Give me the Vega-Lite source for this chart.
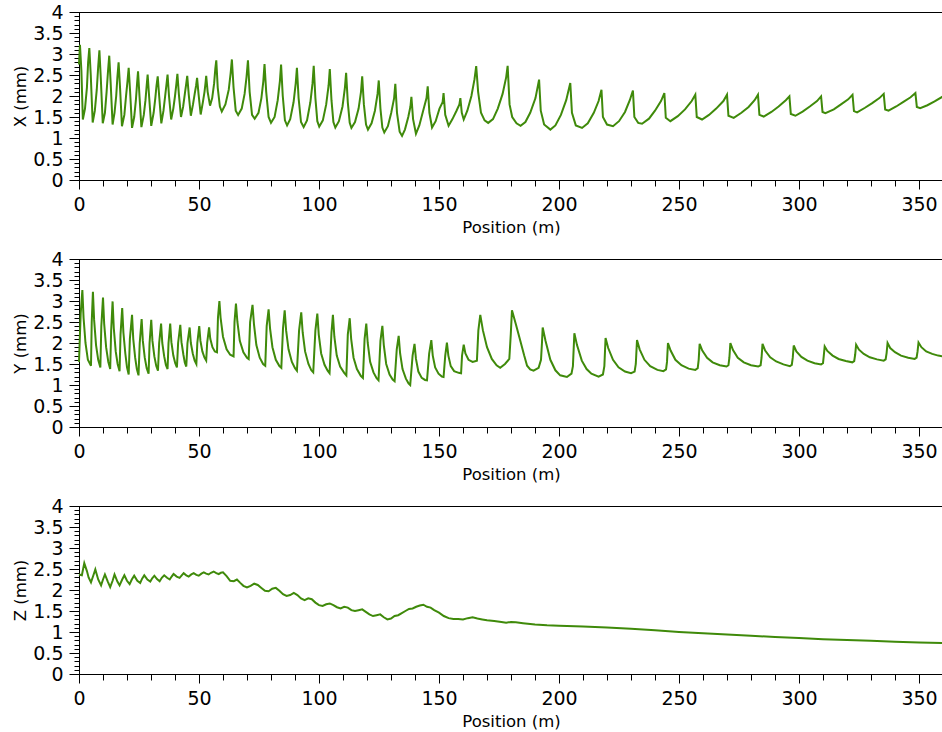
{
"$schema": "https://vega.github.io/schema/vega-lite/v6.json",
"padding": {"left": 12, "top": 3, "right": 0, "bottom": 0},
"spacing": 14,
"config": {
 "view": {"stroke": null},
 "font": "DejaVu Sans",
 "axis": {"labelFont": "DejaVu Sans", "titleFont": "DejaVu Sans", "labelFontSize": 19, "titleFontSize": 16.5, "titleFontWeight": "normal", "labelColor": "#000", "titleColor": "#000", "domainColor": "#000", "tickColor": "#000", "grid": false, "labelOverlap": false, "labelFlush": false}
},
"datasets": {
 "xd": [
{"p":0,"v":2.75},{"p":0.4,"v":3.22},{"p":1.0,"v":2.6},{"p":1.6,"v":1.44},{"p":2.5,"v":1.7},{"p":3.3,"v":2.2},{"p":3.8,"v":2.8},{"p":4.3,"v":3.14},{"p":4.9,"v":2.5},{"p":5.7,"v":1.37},{"p":6.6,"v":1.65},{"p":7.4,"v":2.15},{"p":8.0,"v":2.7},{"p":8.5,"v":3.09},{"p":9.1,"v":2.4},{"p":9.9,"v":1.35},{"p":10.8,"v":1.6},{"p":11.5,"v":2.1},{"p":12.1,"v":2.6},{"p":12.6,"v":2.96},{"p":13.2,"v":2.3},{"p":14.0,"v":1.32},{"p":14.8,"v":1.6},{"p":15.5,"v":2.0},{"p":16.0,"v":2.45},{"p":16.5,"v":2.8},{"p":17.1,"v":2.2},{"p":17.9,"v":1.28},{"p":18.9,"v":1.55},{"p":19.6,"v":2.0},{"p":20.2,"v":2.35},{"p":20.7,"v":2.67},{"p":21.3,"v":2.1},{"p":22.1,"v":1.24},{"p":23.0,"v":1.5},{"p":23.7,"v":1.9},{"p":24.2,"v":2.3},{"p":24.6,"v":2.59},{"p":25.2,"v":2.0},{"p":26.0,"v":1.26},{"p":27.0,"v":1.55},{"p":27.7,"v":1.9},{"p":28.2,"v":2.25},{"p":28.6,"v":2.51},{"p":29.2,"v":2.0},{"p":30.1,"v":1.29},{"p":31.1,"v":1.6},{"p":31.8,"v":1.95},{"p":32.3,"v":2.25},{"p":32.8,"v":2.47},{"p":33.4,"v":2.0},{"p":34.3,"v":1.35},{"p":35.2,"v":1.65},{"p":35.9,"v":2.0},{"p":36.5,"v":2.3},{"p":36.9,"v":2.51},{"p":37.5,"v":2.0},{"p":38.4,"v":1.44},{"p":39.3,"v":1.7},{"p":40.0,"v":2.0},{"p":40.6,"v":2.3},{"p":41.0,"v":2.53},{"p":41.6,"v":2.05},{"p":42.5,"v":1.5},{"p":43.4,"v":1.75},{"p":44.1,"v":2.05},{"p":44.7,"v":2.3},{"p":45.1,"v":2.48},{"p":45.7,"v":2.05},{"p":46.6,"v":1.53},{"p":47.5,"v":1.8},{"p":48.2,"v":2.05},{"p":48.8,"v":2.25},{"p":49.2,"v":2.43},{"p":49.8,"v":2.05},{"p":50.7,"v":1.56},{"p":51.6,"v":1.85},{"p":52.3,"v":2.1},{"p":52.7,"v":2.3},{"p":53.0,"v":2.48},{"p":53.6,"v":2.1},{"p":54.6,"v":1.77},{"p":55.5,"v":1.95},{"p":56.3,"v":2.3},{"p":56.8,"v":2.65},{"p":57.2,"v":2.85},{"p":57.8,"v":2.2},{"p":58.7,"v":1.75},{"p":59.5,"v":1.63},{"p":61.0,"v":1.8},{"p":62.4,"v":2.15},{"p":63.2,"v":2.55},{"p":63.7,"v":2.87},{"p":64.4,"v":2.2},{"p":65.3,"v":1.65},{"p":66.3,"v":1.55},{"p":67.8,"v":1.7},{"p":69.0,"v":2.05},{"p":69.8,"v":2.45},{"p":70.4,"v":2.85},{"p":71.1,"v":2.1},{"p":72.1,"v":1.55},{"p":73.2,"v":1.46},{"p":74.8,"v":1.6},{"p":76.0,"v":1.95},{"p":76.8,"v":2.35},{"p":77.3,"v":2.76},
{"p":78.0,"v":2.1},{"p":79.0,"v":1.5},{"p":80.0,"v":1.36},{"p":81.5,"v":1.5},{"p":82.8,"v":1.9},{"p":83.7,"v":2.35},{"p":84.2,"v":2.75},{"p":84.9,"v":2.0},{"p":85.8,"v":1.42},{"p":86.7,"v":1.3},{"p":88.0,"v":1.45},{"p":89.4,"v":1.85},{"p":90.3,"v":2.3},{"p":90.8,"v":2.67},{"p":91.5,"v":1.95},{"p":92.5,"v":1.38},{"p":93.6,"v":1.26},{"p":95.0,"v":1.42},{"p":96.4,"v":1.85},{"p":97.3,"v":2.3},{"p":97.8,"v":2.72},{"p":98.5,"v":1.95},{"p":99.3,"v":1.4},{"p":100.1,"v":1.27},{"p":101.6,"v":1.42},{"p":103.0,"v":1.8},{"p":104.0,"v":2.25},{"p":104.5,"v":2.64},{"p":105.2,"v":1.9},{"p":106.0,"v":1.38},{"p":106.8,"v":1.25},{"p":108.3,"v":1.4},{"p":109.8,"v":1.75},{"p":110.8,"v":2.2},{"p":111.3,"v":2.55},{"p":112.0,"v":1.85},{"p":112.8,"v":1.36},{"p":113.5,"v":1.24},{"p":115.0,"v":1.38},{"p":116.5,"v":1.7},{"p":117.5,"v":2.1},{"p":118.0,"v":2.47},{"p":118.7,"v":1.8},{"p":119.6,"v":1.32},{"p":120.4,"v":1.2},{"p":121.9,"v":1.35},{"p":123.3,"v":1.65},{"p":124.4,"v":2.05},{"p":124.9,"v":2.37},{"p":125.6,"v":1.7},{"p":126.4,"v":1.25},{"p":127.2,"v":1.13},{"p":128.7,"v":1.28},{"p":130.1,"v":1.6},{"p":131.3,"v":1.95},{"p":131.8,"v":2.29},{"p":132.5,"v":1.6},{"p":133.6,"v":1.15},{"p":134.6,"v":1.05},{"p":135.8,"v":1.2},{"p":137.2,"v":1.5},{"p":138.1,"v":1.75},{"p":138.5,"v":1.98},{"p":139.2,"v":1.45},{"p":140.4,"v":1.1},{"p":141.8,"v":1.3},{"p":143.4,"v":1.65},{"p":144.8,"v":1.95},{"p":145.3,"v":2.23},{"p":146.0,"v":1.6},{"p":147.1,"v":1.25},{"p":148.6,"v":1.4},{"p":150.2,"v":1.7},{"p":151.5,"v":1.85},{"p":151.9,"v":2.07},{"p":152.6,"v":1.55},{"p":154.0,"v":1.29},{"p":155.6,"v":1.45},{"p":157.3,"v":1.65},{"p":158.5,"v":1.8},{"p":158.9,"v":1.95},{"p":159.5,"v":1.6},{"p":160.3,"v":1.44},{"p":161.8,"v":1.65},{"p":163.5,"v":2.0},{"p":164.8,"v":2.4},{"p":165.5,"v":2.71},{"p":166.3,"v":2.1},{"p":167.5,"v":1.6},{"p":169.0,"v":1.42},{"p":170.5,"v":1.36},{"p":172.5,"v":1.45},{"p":174.5,"v":1.7},{"p":176.5,"v":2.05},{"p":178.0,"v":2.45},{"p":178.6,"v":2.72},{"p":179.4,"v":1.8},{"p":180.5,"v":1.5},{"p":182.3,"v":1.35},{"p":184.0,"v":1.29},{"p":186.0,"v":1.38},{"p":188.0,"v":1.6},{"p":190.2,"v":1.95},{"p":191.7,"v":2.39},{"p":192.4,"v":1.65},{"p":193.8,"v":1.32},{"p":196.4,"v":1.2},{"p":198.5,"v":1.3},{"p":200.8,"v":1.55},{"p":203.0,"v":1.9},{"p":204.7,"v":2.31},{"p":205.4,"v":1.6},{"p":207.0,"v":1.3},{"p":209.6,"v":1.24},{"p":212.0,"v":1.35},{"p":214.5,"v":1.6},{"p":216.5,"v":1.88},{"p":217.7,"v":2.15},{"p":218.3,"v":1.5},{"p":220.0,"v":1.32},{"p":222.5,"v":1.28},{"p":225.0,"v":1.4},{"p":227.5,"v":1.62},{"p":229.5,"v":1.9},{"p":230.8,"v":2.13},{"p":231.4,"v":1.5},{"p":233.0,"v":1.36},{"p":234.6,"v":1.34},{"p":237.5,"v":1.46},{"p":240.0,"v":1.65},{"p":242.5,"v":1.88},{"p":243.9,"v":2.07},{"p":244.5,"v":1.48},{"p":246.4,"v":1.4},{"p":249.5,"v":1.52},{"p":252.5,"v":1.68},{"p":255.3,"v":1.88},{"p":256.8,"v":2.03},{"p":257.4,"v":1.5},{"p":259.6,"v":1.44},{"p":262.5,"v":1.55},{"p":265.5,"v":1.7},{"p":268.5,"v":1.88},{"p":270.0,"v":2.03},{"p":270.6,"v":1.53},{"p":272.8,"v":1.48},{"p":276.0,"v":1.6},{"p":279.0,"v":1.74},{"p":281.5,"v":1.9},{"p":282.9,"v":2.03},{"p":283.5,"v":1.55},{"p":285.3,"v":1.51},{"p":288.5,"v":1.62},{"p":291.5,"v":1.75},{"p":294.5,"v":1.9},{"p":296.0,"v":1.99},{"p":296.6,"v":1.57},{"p":298.5,"v":1.53},{"p":301.5,"v":1.63},{"p":304.5,"v":1.75},{"p":307.5,"v":1.88},{"p":309.2,"v":1.99},{"p":309.8,"v":1.62},{"p":311.0,"v":1.59},{"p":314.5,"v":1.68},{"p":317.5,"v":1.8},{"p":320.5,"v":1.92},{"p":322.3,"v":2.03},{"p":322.9,"v":1.64},{"p":324.2,"v":1.61},{"p":327.5,"v":1.72},{"p":330.5,"v":1.83},{"p":333.5,"v":1.95},{"p":335.3,"v":2.05},{"p":335.9,"v":1.68},{"p":337.3,"v":1.65},{"p":340.5,"v":1.75},{"p":343.5,"v":1.86},{"p":346.5,"v":1.97},{"p":348.5,"v":2.07},{"p":349.1,"v":1.74},{"p":350.5,"v":1.71},{"p":353.5,"v":1.78},{"p":356.5,"v":1.87},{"p":360,"v":1.99}
 ],
 "yd": [
{"p":0,"v":1.55},{"p":0.7,"v":2.7},{"p":1.4,"v":3.26},{"p":1.9,"v":2.6},{"p":2.7,"v":2.0},{"p":3.7,"v":1.6},{"p":5.0,"v":1.46},{"p":5.3,"v":2.5},{"p":5.8,"v":3.22},{"p":6.3,"v":2.55},{"p":7.1,"v":1.95},{"p":8.0,"v":1.6},{"p":8.9,"v":1.42},{"p":9.3,"v":2.4},{"p":10.0,"v":3.08},{"p":10.5,"v":2.45},{"p":11.3,"v":1.9},{"p":12.2,"v":1.55},{"p":13.0,"v":1.38},{"p":13.4,"v":2.3},{"p":14.0,"v":2.99},{"p":14.5,"v":2.35},{"p":15.3,"v":1.8},{"p":16.1,"v":1.5},{"p":16.9,"v":1.33},{"p":17.3,"v":2.2},{"p":18.0,"v":2.83},{"p":18.5,"v":2.25},{"p":19.3,"v":1.75},{"p":20.0,"v":1.42},{"p":20.7,"v":1.25},{"p":21.2,"v":2.1},{"p":22.1,"v":2.67},{"p":22.6,"v":2.1},{"p":23.4,"v":1.65},{"p":24.1,"v":1.38},{"p":24.8,"v":1.23},{"p":25.3,"v":2.0},{"p":26.1,"v":2.57},{"p":26.6,"v":2.05},{"p":27.4,"v":1.65},{"p":28.2,"v":1.4},{"p":29.0,"v":1.27},{"p":29.4,"v":2.0},{"p":30.1,"v":2.55},{"p":30.6,"v":2.05},{"p":31.4,"v":1.68},{"p":32.2,"v":1.45},{"p":32.9,"v":1.34},{"p":33.4,"v":2.0},{"p":34.2,"v":2.46},{"p":34.7,"v":2.0},{"p":35.5,"v":1.68},{"p":36.2,"v":1.48},{"p":36.9,"v":1.38},{"p":37.3,"v":2.0},{"p":38.0,"v":2.46},{"p":38.5,"v":2.02},{"p":39.3,"v":1.7},{"p":40.1,"v":1.52},{"p":40.8,"v":1.42},{"p":41.3,"v":2.0},{"p":42.2,"v":2.43},{"p":42.7,"v":2.02},{"p":43.5,"v":1.72},{"p":44.1,"v":1.53},{"p":44.7,"v":1.44},{"p":45.2,"v":2.0},{"p":46.1,"v":2.37},{"p":46.6,"v":2.0},{"p":47.4,"v":1.75},{"p":48.2,"v":1.58},{"p":48.9,"v":1.5},{"p":49.3,"v":2.0},{"p":50.1,"v":2.4},{"p":50.6,"v":2.05},{"p":51.4,"v":1.8},{"p":52.3,"v":1.65},{"p":53.0,"v":1.58},{"p":53.4,"v":2.0},{"p":54.2,"v":2.37},{"p":54.7,"v":2.1},{"p":55.6,"v":1.9},{"p":56.6,"v":1.8},{"p":57.5,"v":1.78},{"p":57.9,"v":2.6},{"p":58.5,"v":3.0},{"p":59.0,"v":2.6},{"p":60.0,"v":2.15},{"p":61.5,"v":1.85},{"p":63.0,"v":1.72},{"p":64.4,"v":1.68},{"p":64.8,"v":2.5},{"p":65.4,"v":2.94},{"p":66.0,"v":2.5},{"p":67.0,"v":2.05},{"p":68.5,"v":1.78},{"p":70.0,"v":1.65},{"p":70.7,"v":1.62},{"p":71.3,"v":2.5},{"p":72.3,"v":2.91},{"p":72.9,"v":2.45},{"p":73.9,"v":1.95},{"p":75.3,"v":1.65},{"p":76.7,"v":1.5},{"p":77.6,"v":1.46},{"p":78.2,"v":2.4},{"p":79.0,"v":2.8},{"p":79.6,"v":2.35},{"p":80.6,"v":1.9},{"p":82.0,"v":1.6},{"p":83.5,"v":1.45},{"p":84.3,"v":1.41},{"p":85.0,"v":2.35},{"p":85.7,"v":2.78},{"p":86.3,"v":2.3},{"p":87.3,"v":1.85},{"p":88.7,"v":1.55},{"p":90.0,"v":1.4},{"p":90.8,"v":1.34},{"p":91.7,"v":2.3},{"p":92.6,"v":2.73},{"p":93.2,"v":2.25},{"p":94.2,"v":1.8},{"p":95.6,"v":1.5},{"p":96.8,"v":1.35},{"p":97.6,"v":1.3},{"p":98.5,"v":2.3},{"p":99.3,"v":2.7},{"p":99.9,"v":2.2},{"p":100.9,"v":1.75},{"p":102.3,"v":1.48},{"p":103.6,"v":1.34},{"p":104.4,"v":1.28},{"p":105.2,"v":2.25},{"p":105.8,"v":2.67},{"p":106.4,"v":2.15},{"p":107.4,"v":1.7},{"p":108.8,"v":1.44},{"p":110.5,"v":1.29},{"p":111.4,"v":1.23},{"p":112.0,"v":2.2},{"p":112.8,"v":2.59},{"p":113.4,"v":2.1},{"p":114.4,"v":1.65},{"p":115.8,"v":1.38},{"p":117.4,"v":1.22},{"p":118.3,"v":1.17},{"p":119.0,"v":2.1},{"p":119.7,"v":2.46},{"p":120.3,"v":2.0},{"p":121.3,"v":1.55},{"p":122.7,"v":1.3},{"p":124.0,"v":1.16},{"p":124.8,"v":1.11},{"p":125.6,"v":2.05},{"p":126.4,"v":2.41},{"p":127.0,"v":1.95},{"p":128.0,"v":1.5},{"p":129.4,"v":1.25},{"p":130.7,"v":1.13},{"p":131.5,"v":1.09},{"p":132.4,"v":1.85},{"p":133.2,"v":2.17},{"p":133.8,"v":1.75},{"p":134.8,"v":1.38},{"p":136.2,"v":1.15},{"p":137.3,"v":1.04},{"p":138.0,"v":1.0},{"p":139.0,"v":1.7},{"p":139.8,"v":1.98},{"p":140.4,"v":1.62},{"p":141.4,"v":1.32},{"p":142.8,"v":1.17},{"p":144.2,"v":1.12},{"p":145.0,"v":1.11},{"p":145.9,"v":1.75},{"p":146.8,"v":2.07},{"p":147.4,"v":1.7},{"p":148.4,"v":1.42},{"p":149.8,"v":1.27},{"p":151.2,"v":1.2},{"p":151.9,"v":1.19},{"p":152.6,"v":1.7},{"p":153.3,"v":2.01},{"p":153.9,"v":1.7},{"p":154.9,"v":1.45},{"p":156.3,"v":1.33},{"p":158.2,"v":1.29},{"p":159.2,"v":1.28},{"p":159.6,"v":1.7},{"p":160.3,"v":1.96},{"p":161.0,"v":1.75},{"p":162.3,"v":1.6},{"p":164.0,"v":1.55},{"p":165.8,"v":1.58},{"p":166.4,"v":2.3},{"p":167.2,"v":2.67},{"p":168.3,"v":2.3},{"p":170.0,"v":1.9},{"p":172.0,"v":1.62},{"p":174.0,"v":1.47},{"p":175.5,"v":1.41},{"p":177.5,"v":1.5},{"p":179.3,"v":1.62},{"p":179.9,"v":2.2},{"p":180.4,"v":2.78},{"p":182.0,"v":2.45},{"p":183.9,"v":2.05},{"p":185.5,"v":1.7},{"p":186.7,"v":1.46},{"p":188.0,"v":1.37},{"p":189.4,"v":1.34},{"p":191.5,"v":1.41},{"p":192.5,"v":1.6},{"p":192.9,"v":2.0},{"p":193.2,"v":2.37},{"p":194.4,"v":2.05},{"p":196.4,"v":1.6},{"p":198.5,"v":1.35},{"p":200.5,"v":1.23},{"p":203.3,"v":1.19},{"p":205.2,"v":1.27},{"p":205.8,"v":1.45},{"p":206.4,"v":2.23},{"p":207.5,"v":1.95},{"p":209.5,"v":1.58},{"p":211.5,"v":1.38},{"p":213.5,"v":1.27},{"p":216.5,"v":1.2},{"p":218.3,"v":1.25},{"p":218.9,"v":1.45},{"p":219.4,"v":2.12},{"p":220.5,"v":1.88},{"p":222.5,"v":1.6},{"p":224.8,"v":1.42},{"p":227.5,"v":1.32},{"p":230.0,"v":1.28},{"p":231.5,"v":1.32},{"p":232.0,"v":1.5},{"p":232.5,"v":2.07},{"p":233.6,"v":1.85},{"p":235.6,"v":1.6},{"p":238.0,"v":1.45},{"p":241.0,"v":1.36},{"p":243.5,"v":1.33},{"p":244.6,"v":1.37},{"p":245.0,"v":1.55},{"p":245.4,"v":2.0},{"p":246.5,"v":1.82},{"p":248.5,"v":1.6},{"p":251.0,"v":1.47},{"p":254.0,"v":1.39},{"p":256.8,"v":1.36},{"p":257.8,"v":1.4},{"p":258.2,"v":1.6},{"p":258.6,"v":1.98},{"p":259.7,"v":1.82},{"p":261.7,"v":1.65},{"p":264.0,"v":1.54},{"p":267.0,"v":1.47},{"p":269.8,"v":1.44},{"p":270.6,"v":1.47},{"p":271.0,"v":1.65},{"p":271.4,"v":2.0},{"p":272.5,"v":1.83},{"p":274.5,"v":1.65},{"p":277.0,"v":1.54},{"p":280.0,"v":1.47},{"p":283.0,"v":1.44},{"p":284.0,"v":1.47},{"p":284.4,"v":1.65},{"p":284.8,"v":1.98},{"p":285.9,"v":1.82},{"p":288.0,"v":1.66},{"p":290.5,"v":1.56},{"p":293.5,"v":1.49},{"p":296.2,"v":1.45},{"p":297.0,"v":1.48},{"p":297.4,"v":1.65},{"p":297.8,"v":1.94},{"p":298.9,"v":1.8},{"p":301.0,"v":1.67},{"p":303.5,"v":1.58},{"p":306.5,"v":1.52},{"p":309.2,"v":1.49},{"p":310.0,"v":1.52},{"p":310.3,"v":1.68},{"p":310.7,"v":1.92},{"p":311.8,"v":1.81},{"p":314.0,"v":1.7},{"p":316.5,"v":1.62},{"p":319.5,"v":1.57},{"p":322.2,"v":1.54},{"p":323.0,"v":1.57},{"p":323.4,"v":1.72},{"p":323.8,"v":1.96},{"p":325.0,"v":1.84},{"p":327.0,"v":1.74},{"p":329.5,"v":1.66},{"p":332.5,"v":1.61},{"p":335.3,"v":1.58},{"p":336.1,"v":1.61},{"p":336.5,"v":1.76},{"p":336.9,"v":2.0},{"p":338.0,"v":1.88},{"p":340.0,"v":1.78},{"p":342.5,"v":1.7},{"p":345.5,"v":1.65},{"p":348.2,"v":1.62},{"p":349.0,"v":1.65},{"p":349.4,"v":1.8},{"p":349.8,"v":2.01},{"p":351.0,"v":1.9},{"p":353.0,"v":1.8},{"p":355.5,"v":1.74},{"p":358.0,"v":1.7},{"p":360,"v":1.68}
 ],
 "zd": [
{"p":0,"v":2.37},{"p":1.2,"v":2.35},{"p":2.2,"v":2.64},{"p":3.3,"v":2.45},{"p":4.0,"v":2.3},{"p":5.0,"v":2.18},{"p":6.0,"v":2.35},{"p":6.8,"v":2.49},{"p":8.0,"v":2.25},{"p":9.2,"v":2.11},{"p":10.0,"v":2.25},{"p":10.8,"v":2.37},{"p":12.0,"v":2.2},{"p":13.0,"v":2.07},{"p":14.0,"v":2.22},{"p":14.8,"v":2.37},{"p":16.0,"v":2.2},{"p":16.9,"v":2.11},{"p":18.0,"v":2.25},{"p":18.9,"v":2.35},{"p":20.0,"v":2.22},{"p":21.1,"v":2.14},{"p":22.0,"v":2.25},{"p":23.0,"v":2.34},{"p":24.3,"v":2.22},{"p":25.5,"v":2.17},{"p":26.3,"v":2.27},{"p":27.2,"v":2.35},{"p":28.5,"v":2.25},{"p":29.7,"v":2.2},{"p":30.5,"v":2.28},{"p":31.4,"v":2.34},{"p":32.5,"v":2.26},{"p":33.6,"v":2.21},{"p":34.5,"v":2.29},{"p":35.5,"v":2.35},{"p":36.7,"v":2.29},{"p":37.8,"v":2.25},{"p":38.6,"v":2.32},{"p":39.4,"v":2.38},{"p":40.7,"v":2.32},{"p":41.9,"v":2.29},{"p":42.8,"v":2.35},{"p":43.6,"v":2.4},{"p":44.7,"v":2.35},{"p":45.7,"v":2.32},{"p":46.8,"v":2.37},{"p":47.8,"v":2.4},{"p":48.9,"v":2.36},{"p":49.9,"v":2.34},{"p":51.0,"v":2.39},{"p":52.0,"v":2.42},{"p":53.0,"v":2.39},{"p":54.0,"v":2.37},{"p":55.0,"v":2.41},{"p":56.1,"v":2.44},{"p":57.2,"v":2.4},{"p":58.2,"v":2.38},{"p":59.1,"v":2.41},{"p":60.0,"v":2.42},{"p":61.5,"v":2.33},{"p":63.0,"v":2.22},{"p":64.5,"v":2.21},{"p":65.8,"v":2.25},{"p":67.2,"v":2.17},{"p":68.5,"v":2.1},{"p":70.0,"v":2.06},{"p":71.5,"v":2.1},{"p":73.0,"v":2.15},{"p":74.5,"v":2.12},{"p":76.0,"v":2.05},{"p":77.5,"v":1.98},{"p":79.0,"v":1.97},{"p":80.5,"v":2.03},{"p":82.0,"v":2.05},{"p":83.5,"v":1.98},{"p":85.0,"v":1.9},{"p":86.5,"v":1.86},{"p":88.0,"v":1.88},{"p":89.5,"v":1.93},{"p":91.0,"v":1.88},{"p":92.5,"v":1.8},{"p":94.0,"v":1.76},{"p":95.5,"v":1.8},{"p":97.0,"v":1.78},{"p":98.5,"v":1.7},{"p":100.0,"v":1.64},{"p":101.5,"v":1.62},{"p":103.0,"v":1.66},{"p":104.5,"v":1.68},{"p":106.0,"v":1.64},{"p":107.5,"v":1.59},{"p":109.0,"v":1.56},{"p":110.5,"v":1.6},{"p":112.0,"v":1.58},{"p":113.5,"v":1.52},{"p":115.0,"v":1.5},{"p":116.5,"v":1.52},{"p":118.0,"v":1.54},{"p":119.5,"v":1.48},{"p":121.0,"v":1.42},{"p":122.5,"v":1.38},{"p":124.0,"v":1.4},{"p":125.5,"v":1.42},{"p":127.0,"v":1.35},{"p":128.5,"v":1.3},{"p":130.0,"v":1.32},{"p":131.5,"v":1.38},{"p":133.0,"v":1.4},{"p":134.5,"v":1.45},{"p":136.0,"v":1.5},{"p":137.5,"v":1.55},{"p":139.0,"v":1.56},{"p":140.5,"v":1.6},{"p":142.0,"v":1.63},{"p":143.5,"v":1.65},{"p":145.0,"v":1.6},{"p":146.5,"v":1.58},{"p":148.0,"v":1.52},{"p":150.0,"v":1.46},{"p":152.0,"v":1.38},{"p":154.0,"v":1.33},{"p":156.0,"v":1.31},{"p":158.0,"v":1.31},{"p":160.0,"v":1.3},{"p":162.0,"v":1.33},{"p":164.0,"v":1.35},{"p":166.0,"v":1.32},{"p":168.0,"v":1.3},{"p":170.0,"v":1.28},{"p":173.0,"v":1.26},{"p":176.0,"v":1.24},{"p":178.0,"v":1.22},{"p":180.0,"v":1.24},{"p":182.0,"v":1.23},{"p":185.0,"v":1.21},{"p":190.0,"v":1.18},{"p":195.0,"v":1.16},{"p":200.0,"v":1.15},{"p":210.0,"v":1.13},{"p":220.0,"v":1.11},{"p":230.0,"v":1.08},{"p":240.0,"v":1.04},{"p":250.0,"v":1.0},{"p":260.0,"v":0.97},{"p":270.0,"v":0.94},{"p":280.0,"v":0.91},{"p":290.0,"v":0.88},{"p":300.0,"v":0.86},{"p":310.0,"v":0.83},{"p":320.0,"v":0.81},{"p":330.0,"v":0.79},{"p":340.0,"v":0.77},{"p":350.0,"v":0.75},{"p":360.0,"v":0.74}
 ]
},
"vconcat": [
 {"width": 864, "height": 168, "resolve": {"axis": {"x": "independent", "y": "independent"}}, "layer": [
  {"data": {"name": "xd"}, "mark": {"type": "line", "color": "#3f8a0a", "strokeWidth": 2},
   "encoding": {
    "x": {"field": "p", "type": "quantitative", "scale": {"domain": [0, 360], "nice": false, "zero": false},
     "axis": {"orient": "bottom", "title": "Position (m)", "values": [0,50,100,150,200,250,300,350], "format": "d", "tickSize": 9, "labelPadding": 6, "titlePadding": 5}},
    "y": {"field": "v", "type": "quantitative", "scale": {"domain": [0, 4], "nice": false},
     "axis": {"orient": "left", "title": "X (mm)", "values": [0,0.5,1,1.5,2,2.5,3,3.5,4], "format": "~g", "tickSize": 10, "labelPadding": 6, "titlePadding": 4}}
   }},
  {"data": {"values": [{}]}, "mark": {"type": "rule", "color": "#000", "strokeWidth": 1, "yOffset": 0.5},
   "encoding": {
    "x": {"datum": 0, "type": "quantitative", "axis": {"orient": "bottom", "title": null, "labels": false, "domain": false, "tickSize": 6, "values": [0,10,20,30,40,50,60,70,80,90,100,110,120,130,140,150,160,170,180,190,200,210,220,230,240,250,260,270,280,290,300,310,320,330,340,350,360]}},
    "x2": {"datum": 360},
    "y": {"datum": 4, "type": "quantitative", "axis": {"orient": "left", "title": null, "labels": false, "domain": false, "tickSize": 5, "values": [0,0.1,0.2,0.3,0.4,0.5,0.6,0.7,0.8,0.9,1,1.1,1.2,1.3,1.4,1.5,1.6,1.7,1.8,1.9,2,2.1,2.2,2.3,2.4,2.5,2.6,2.7,2.8,2.9,3,3.1,3.2,3.3,3.4,3.5,3.6,3.7,3.8,3.9,4]}}
   }}
 ]},
 {"width": 864, "height": 168, "resolve": {"axis": {"x": "independent", "y": "independent"}}, "layer": [
  {"data": {"name": "yd"}, "mark": {"type": "line", "color": "#3f8a0a", "strokeWidth": 2},
   "encoding": {
    "x": {"field": "p", "type": "quantitative", "scale": {"domain": [0, 360], "nice": false, "zero": false},
     "axis": {"orient": "bottom", "title": "Position (m)", "values": [0,50,100,150,200,250,300,350], "format": "d", "tickSize": 9, "labelPadding": 6, "titlePadding": 5}},
    "y": {"field": "v", "type": "quantitative", "scale": {"domain": [0, 4], "nice": false},
     "axis": {"orient": "left", "title": "Y (mm)", "values": [0,0.5,1,1.5,2,2.5,3,3.5,4], "format": "~g", "tickSize": 10, "labelPadding": 6, "titlePadding": 4}}
   }},
  {"data": {"values": [{}]}, "mark": {"type": "rule", "color": "#000", "strokeWidth": 1, "yOffset": 0.5},
   "encoding": {
    "x": {"datum": 0, "type": "quantitative", "axis": {"orient": "bottom", "title": null, "labels": false, "domain": false, "tickSize": 6, "values": [0,10,20,30,40,50,60,70,80,90,100,110,120,130,140,150,160,170,180,190,200,210,220,230,240,250,260,270,280,290,300,310,320,330,340,350,360]}},
    "x2": {"datum": 360},
    "y": {"datum": 4, "type": "quantitative", "axis": {"orient": "left", "title": null, "labels": false, "domain": false, "tickSize": 5, "values": [0,0.1,0.2,0.3,0.4,0.5,0.6,0.7,0.8,0.9,1,1.1,1.2,1.3,1.4,1.5,1.6,1.7,1.8,1.9,2,2.1,2.2,2.3,2.4,2.5,2.6,2.7,2.8,2.9,3,3.1,3.2,3.3,3.4,3.5,3.6,3.7,3.8,3.9,4]}}
   }}
 ]},
 {"width": 864, "height": 168, "resolve": {"axis": {"x": "independent", "y": "independent"}}, "layer": [
  {"data": {"name": "zd"}, "mark": {"type": "line", "color": "#3f8a0a", "strokeWidth": 2},
   "encoding": {
    "x": {"field": "p", "type": "quantitative", "scale": {"domain": [0, 360], "nice": false, "zero": false},
     "axis": {"orient": "bottom", "title": "Position (m)", "values": [0,50,100,150,200,250,300,350], "format": "d", "tickSize": 9, "labelPadding": 6, "titlePadding": 5}},
    "y": {"field": "v", "type": "quantitative", "scale": {"domain": [0, 4], "nice": false},
     "axis": {"orient": "left", "title": "Z (mm)", "values": [0,0.5,1,1.5,2,2.5,3,3.5,4], "format": "~g", "tickSize": 10, "labelPadding": 6, "titlePadding": 4}}
   }},
  {"data": {"values": [{}]}, "mark": {"type": "rule", "color": "#000", "strokeWidth": 1, "yOffset": 0.5},
   "encoding": {
    "x": {"datum": 0, "type": "quantitative", "axis": {"orient": "bottom", "title": null, "labels": false, "domain": false, "tickSize": 6, "values": [0,10,20,30,40,50,60,70,80,90,100,110,120,130,140,150,160,170,180,190,200,210,220,230,240,250,260,270,280,290,300,310,320,330,340,350,360]}},
    "x2": {"datum": 360},
    "y": {"datum": 4, "type": "quantitative", "axis": {"orient": "left", "title": null, "labels": false, "domain": false, "tickSize": 5, "values": [0,0.1,0.2,0.3,0.4,0.5,0.6,0.7,0.8,0.9,1,1.1,1.2,1.3,1.4,1.5,1.6,1.7,1.8,1.9,2,2.1,2.2,2.3,2.4,2.5,2.6,2.7,2.8,2.9,3,3.1,3.2,3.3,3.4,3.5,3.6,3.7,3.8,3.9,4]}}
   }}
 ]}
]
}
